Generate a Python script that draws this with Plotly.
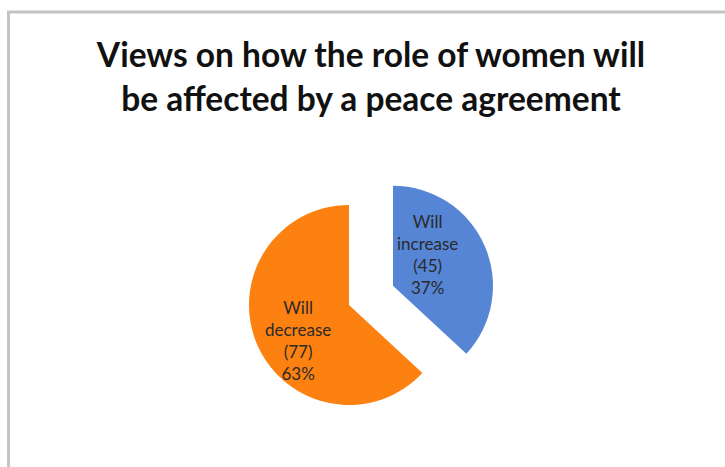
import plotly.graph_objects as go

labels = ["Will increase", "Will decrease"]
counts = [45, 77]
percents = ["37%", "63%"]
colors = ["#5585d4", "#fd8110"]
pulls = [0.48, 0]

W, H = 725, 467

fig = go.Figure(go.Pie(
    labels=labels,
    values=counts,
    textinfo="none",
    marker=dict(colors=colors, line=dict(width=0)),
    pull=pulls,
    sort=False,
    direction="clockwise",
    rotation=0,
    showlegend=False,
    hoverinfo="label+value+percent",
    domain=dict(x=[201 / W, 497 / W], y=[1 - 453 / H, 1 - 157 / H]),
))

# slice labels placed like the original (text built from the data)
label_pos = [(427, 254), (298, 340)]
annotations = []
for lab, c, p, (px, py) in zip(labels, counts, percents, label_pos):
    first, second = lab.split(" ", 1)
    annotations.append(dict(
        text=f"{first}<br>{second}<br>({c})<br>{p}",
        xref="paper", yref="paper", x=px / W, y=1 - py / H,
        xanchor="center", yanchor="middle", showarrow=False, align="center",
        font=dict(family="Lato, 'Open Sans', sans-serif", size=17, color="#2a2a2a"),
    ))

fig.update_layout(
    width=W, height=H,
    margin=dict(l=0, r=0, t=0, b=0),
    paper_bgcolor="white",
    title=dict(
        text="<b>Views on how the role of women will<br>be affected by a peace agreement</b>",
        x=371 / W, xanchor="center",
        y=1 - 67 / H, yanchor="middle",
        font=dict(family="Lato, 'Open Sans', sans-serif", size=33.5, color="#111111"),
    ),
    annotations=annotations,
    shapes=[dict(
        type="rect", xref="paper", yref="paper",
        x0=8.5 / W, x1=1.05, y0=-0.05, y1=1 - 12 / H,
        line=dict(color="#c4c4c4", width=3),
        fillcolor="rgba(0,0,0,0)",
    )],
)

fig.write_html("out.html")
